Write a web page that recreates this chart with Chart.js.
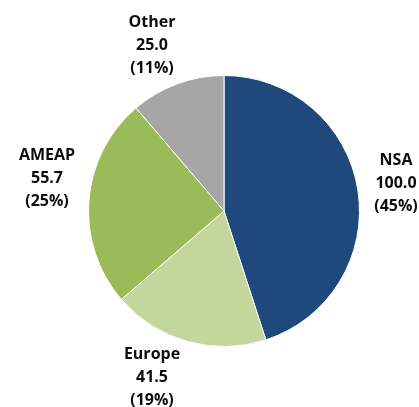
<!DOCTYPE html>
<html>
<head>
<meta charset="utf-8">
<script src="https://cdn.jsdelivr.net/npm/chart.js@4/dist/chart.umd.min.js"></script>
<style>
  html, body { margin: 0; padding: 0; background: #fff; }
  #wrap { width: 419px; height: 407px; }
</style>
</head>
<body>
<div id="wrap"><canvas id="pieChart" width="419" height="407"></canvas></div>
<script>
// datos del grafico
var regiones = ['NSA', 'Europe', 'AMEAP', 'Other'];
var valores = [100.0, 41.5, 55.7, 25.0];
var porcentajes = ['45%', '19%', '25%', '11%'];
var colores = ['#1F497D', '#C3D69B', '#9BBB59', '#A6A6A6'];

// desplazamiento de cada etiqueta respecto al centro de la tarta (en px)
var posEtiquetas = [[172, -28], [-72, 166], [-177, -33], [-72, -166]];

var etiquetasPlugin = {
  id: 'etiquetas',
  afterDatasetsDraw: function(chart) {
    var ctx = chart.ctx;
    var arcos = chart.getDatasetMeta(0).data;
    ctx.save();
    ctx.font = 'bold 16px "Open Sans", sans-serif';
    ctx.fillStyle = '#0d0d0d';
    ctx.textAlign = 'center';
    ctx.textBaseline = 'middle';
    for (var i = 0; i < arcos.length; i++) {
      var cx = arcos[i].x + posEtiquetas[i][0];
      var cy = arcos[i].y + posEtiquetas[i][1];
      var lineas = [regiones[i], valores[i].toFixed(1), '(' + porcentajes[i] + ')'];
      for (var j = 0; j < lineas.length; j++) {
        ctx.fillText(lineas[j], cx, cy + (j - 1) * 23);
      }
    }
    ctx.restore();
  }
};

var ctx = document.getElementById('pieChart').getContext('2d');
var tarta = new Chart(ctx, {
  type: 'pie',
  data: {
    labels: regiones,
    datasets: [{
      data: valores,
      backgroundColor: colores,
      borderColor: '#ffffff',
      borderWidth: 1
    }]
  },
  options: {
    responsive: false,
    animation: false,
    layout: { padding: { left: 88, right: 59, top: 75, bottom: 60 } },
    plugins: {
      legend: { display: false },
      tooltip: { enabled: false }
    }
  },
  plugins: [etiquetasPlugin]
});
</script>
</body>
</html>
